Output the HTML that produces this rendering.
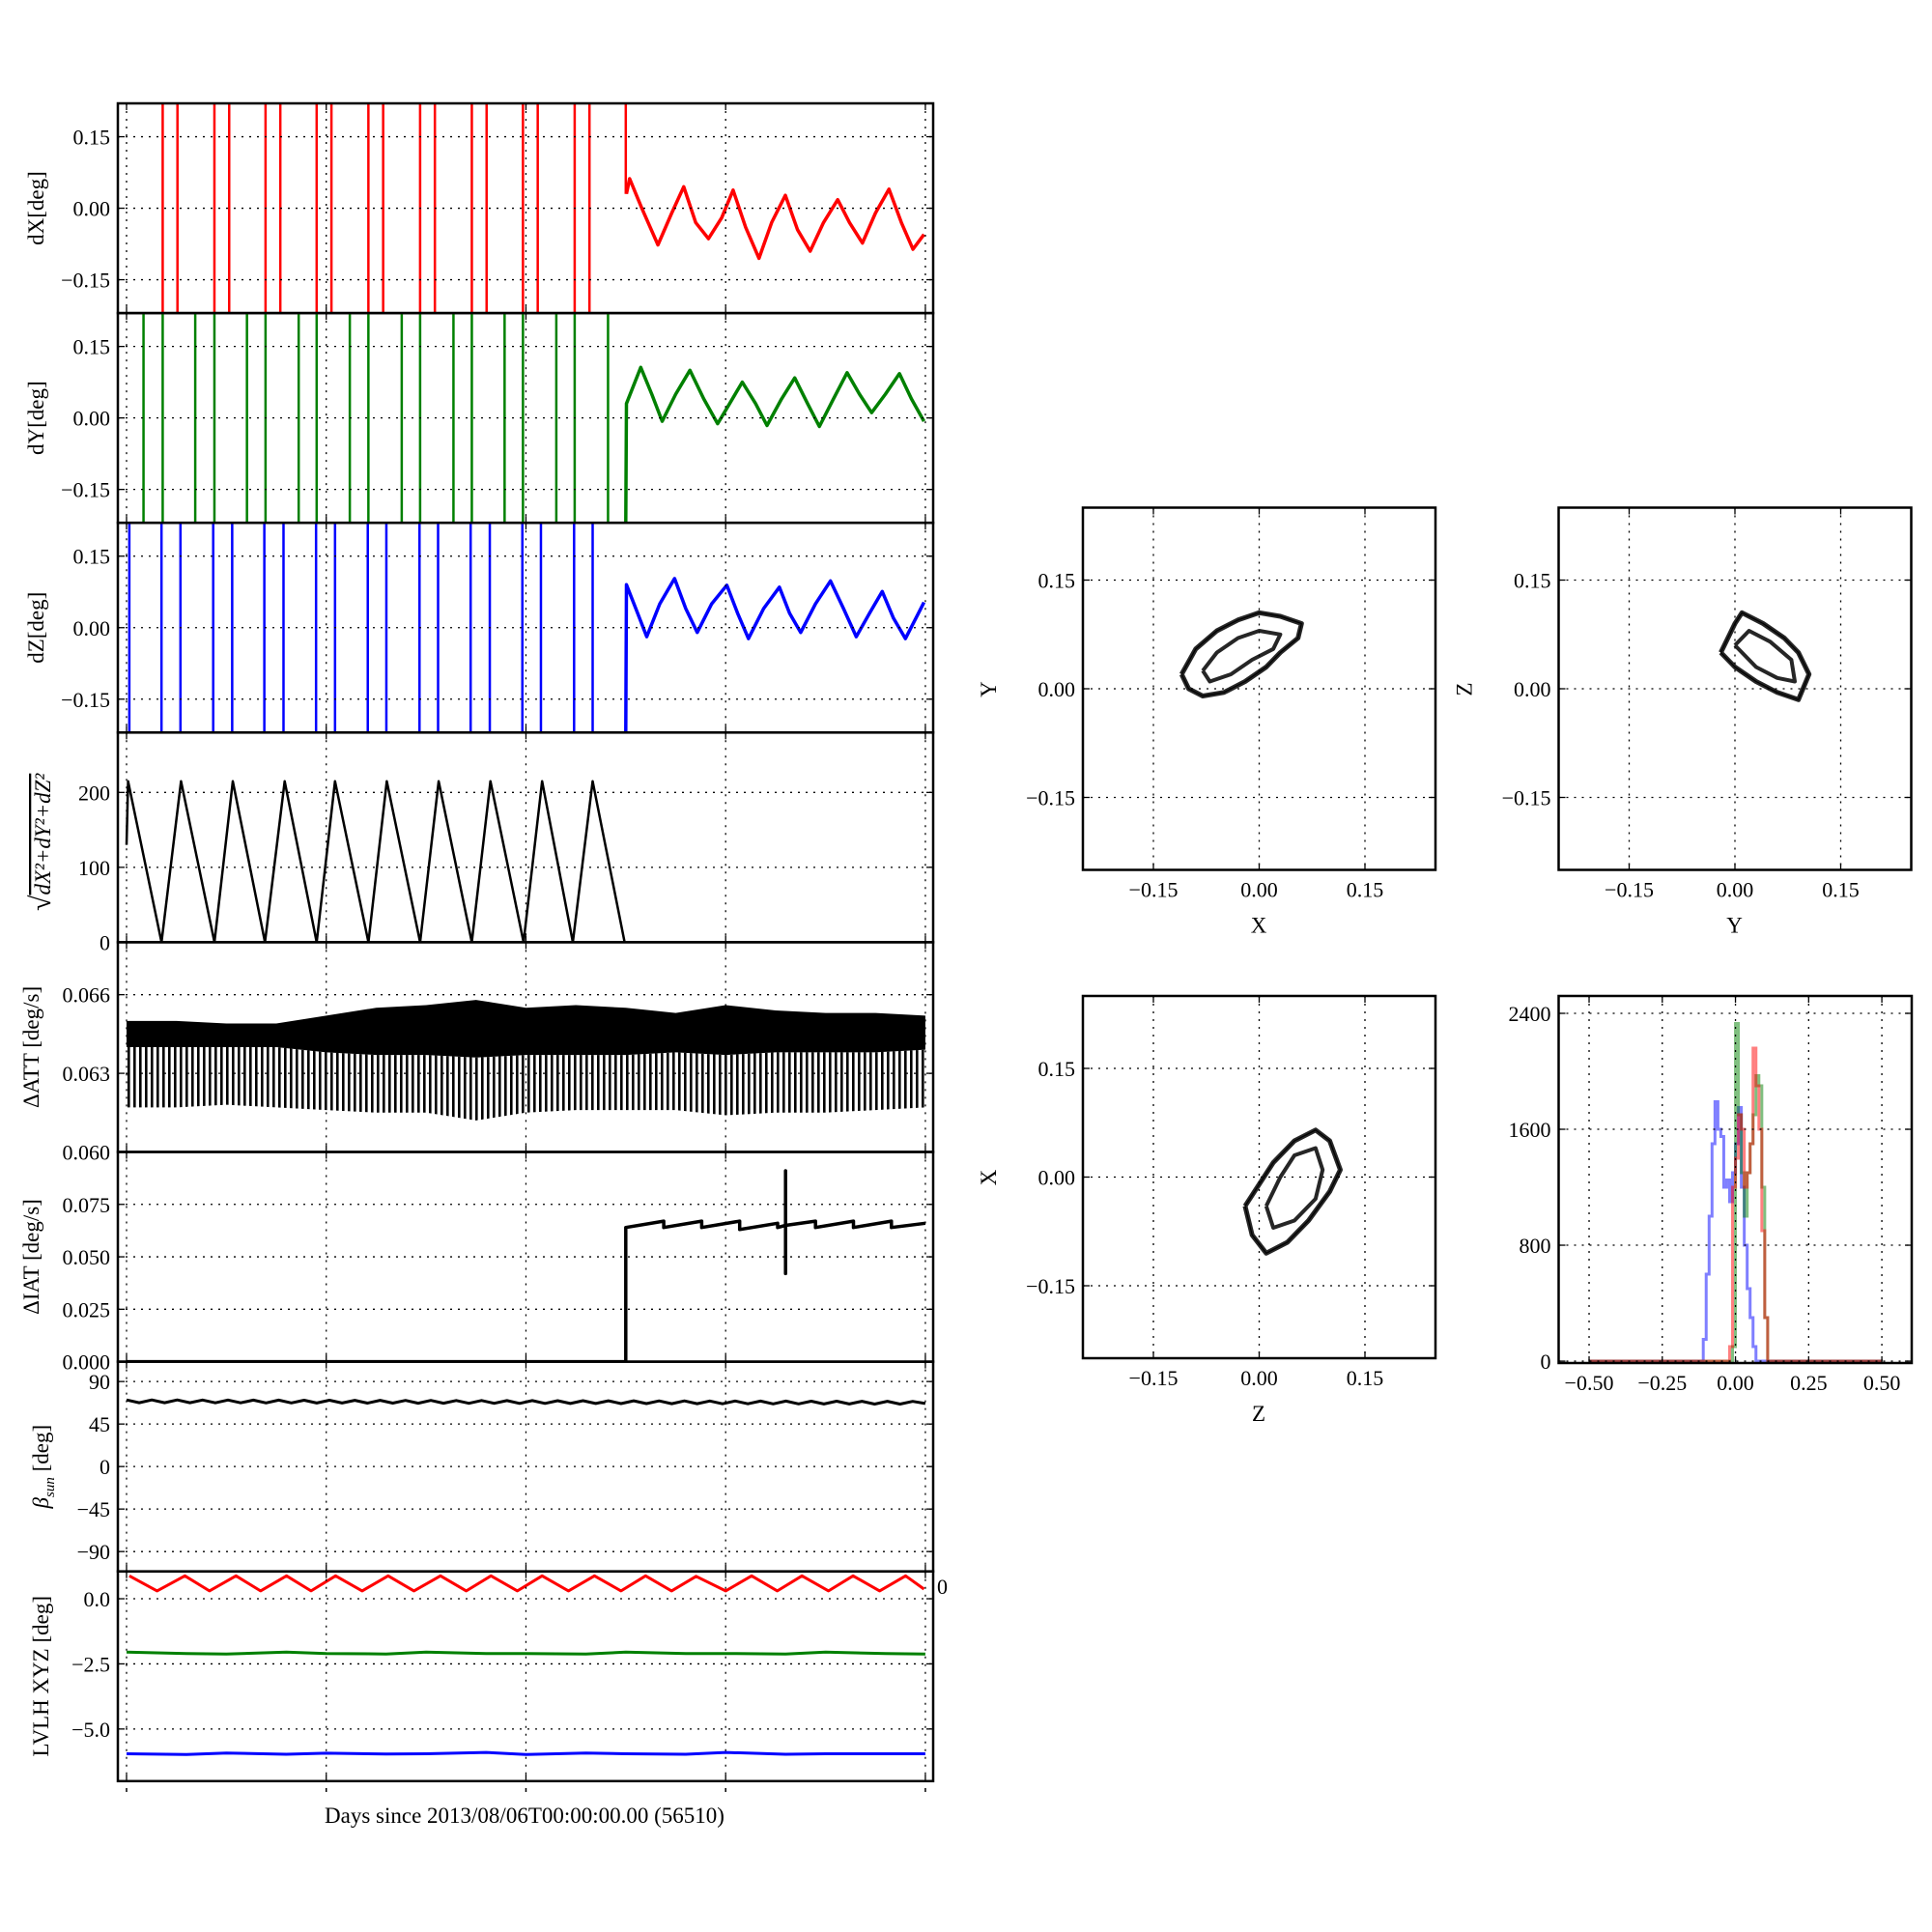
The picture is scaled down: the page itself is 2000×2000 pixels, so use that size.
<!DOCTYPE html>
<html><head><meta charset="utf-8">
<style>
html,body{margin:0;padding:0;background:#fff;}
svg{display:block;font-family:"Liberation Serif",serif;}
</style></head>
<body>
<svg id="fig" width="2000" height="2000" viewBox="0 0 2000 2000" xmlns="http://www.w3.org/2000/svg">
<defs>
<pattern id="stripes" width="6" height="10" patternUnits="userSpaceOnUse"><rect x="0" y="0" width="2.6" height="10" fill="#000"/></pattern>
</defs>
</svg>
<script>
// ---------- data ----------
const dxSpikeDays=[0.181,0.255,0.44,0.514,0.696,0.77,0.952,1.026,1.211,1.285,1.47,1.544,1.729,1.803,1.985,2.059,2.244,2.318];
const dySpikeDays=[0.085,0.181,0.344,0.44,0.603,0.696,0.862,0.952,1.118,1.211,1.378,1.47,1.637,1.729,1.893,1.985,2.152,2.244,2.411];
const dzSpikeDays=[0.014,0.175,0.27,0.434,0.529,0.69,0.786,0.949,1.044,1.208,1.301,1.467,1.56,1.723,1.819,1.982,2.075,2.241,2.334];
const stepDay=2.5;
const dxDays=[2.5,2.503,2.519,2.58,2.661,2.73,2.79,2.85,2.914,2.98,3.037,3.1,3.167,3.23,3.299,3.36,3.423,3.49,3.561,3.62,3.685,3.75,3.818,3.88,3.938,3.993];
const dxVals=[0.22,0.03,0.062,0.0,-0.077,-0.01,0.045,-0.03,-0.064,-0.02,0.038,-0.04,-0.105,-0.03,0.027,-0.045,-0.09,-0.03,0.018,-0.03,-0.073,-0.01,0.04,-0.03,-0.086,-0.055];
const dyDays=[2.5,2.503,2.575,2.63,2.682,2.75,2.821,2.89,2.96,3.02,3.083,3.15,3.207,3.28,3.346,3.41,3.469,3.54,3.608,3.67,3.731,3.8,3.87,3.93,3.993];
const dyVals=[-0.22,0.03,0.106,0.05,-0.007,0.05,0.1,0.04,-0.012,0.03,0.075,0.03,-0.016,0.04,0.084,0.03,-0.018,0.04,0.095,0.05,0.011,0.05,0.093,0.04,-0.007];
const dzDays=[2.5,2.503,2.55,2.605,2.67,2.744,2.8,2.858,2.93,3.006,3.06,3.114,3.19,3.269,3.32,3.376,3.45,3.525,3.59,3.654,3.72,3.784,3.84,3.9,3.993];
const dzVals=[-0.22,0.09,0.04,-0.019,0.05,0.103,0.04,-0.01,0.05,0.089,0.03,-0.023,0.04,0.085,0.03,-0.01,0.05,0.098,0.04,-0.019,0.03,0.076,0.02,-0.023,0.053];
const normDays=[0,0.008,0.175,0.273,0.44,0.532,0.693,0.792,0.952,1.044,1.211,1.303,1.47,1.563,1.729,1.822,1.988,2.081,2.235,2.334,2.494];
const normVals=[130,215,0,215,0,215,0,215,0,215,0,215,0,215,0,215,0,215,0,215,0];
const attDays=[0,0.25,0.5,0.75,1.0,1.25,1.5,1.75,2.0,2.25,2.5,2.75,3.0,3.25,3.5,3.75,4.0];
const attTop=[0.0650,0.0650,0.0649,0.0649,0.0652,0.0655,0.0656,0.0658,0.0655,0.0656,0.0655,0.0653,0.0656,0.0654,0.0653,0.0653,0.0652];
const attCoreLow=[0.0640,0.0640,0.0640,0.0640,0.0638,0.0637,0.0637,0.0636,0.0637,0.0637,0.0637,0.0638,0.0637,0.0638,0.0638,0.0638,0.0639];
const attBottom=[0.0617,0.0617,0.0618,0.0617,0.0616,0.0615,0.0615,0.0612,0.0615,0.0616,0.0616,0.0616,0.0614,0.0615,0.0615,0.0616,0.0617];
const iatDays=[0,2.5,2.5,2.69,2.69,2.88,2.88,3.07,3.07,3.26,3.26,3.3,3.3,3.3,3.3,3.45,3.45,3.64,3.64,3.83,3.83,4.0];
const iatVals=[0,0,0.064,0.067,0.064,0.067,0.064,0.067,0.063,0.066,0.064,0.065,0.091,0.042,0.065,0.067,0.064,0.067,0.064,0.067,0.064,0.066];
const betaVals=[70.5,67.5,70.5,67.5,70.5,67.5,70.4,67.4,70.4,67.4,70.3,67.3,70.3,67.3,70.2,67.2,70.2,67.2,70.1,67.1,70.1,67.1,70.0,67.0,70.0,67.0,69.9,66.9,69.9,66.9,69.8,66.8,69.8,66.8,69.7,66.7,69.7,66.7,69.6,66.6,69.6,66.6,69.5,66.5,69.5,66.5,69.4,66.4,69.4,66.4,69.3,66.3,69.3,66.3,69.2,66.2,69.2,66.2,69.1,66.1,69.1,66.1,69.0,66.7];
const redDays=[0.014,0.153,0.292,0.415,0.548,0.671,0.801,0.924,1.047,1.18,1.31,1.439,1.572,1.701,1.825,1.957,2.081,2.213,2.343,2.476,2.599,2.729,2.852,3.0,3.13,3.259,3.382,3.515,3.638,3.771,3.901,3.993];
const redVals=[0.88,0.3,0.88,0.3,0.88,0.3,0.88,0.3,0.88,0.3,0.88,0.3,0.88,0.3,0.88,0.3,0.88,0.3,0.88,0.3,0.88,0.3,0.86,0.3,0.88,0.3,0.88,0.3,0.88,0.3,0.88,0.37];
const greenDays=[0,0.3,0.5,0.8,1.0,1.3,1.5,1.8,2.0,2.3,2.5,2.8,3.0,3.3,3.5,3.8,4.0];
const greenVals=[-2.05,-2.1,-2.12,-2.05,-2.1,-2.12,-2.05,-2.1,-2.1,-2.12,-2.05,-2.1,-2.1,-2.12,-2.05,-2.1,-2.12];
const blueDays=[0,0.3,0.5,0.8,1.0,1.3,1.5,1.8,2.0,2.3,2.5,2.8,3.0,3.3,3.5,3.8,4.0];
const blueVals=[-5.95,-5.98,-5.92,-5.97,-5.93,-5.96,-5.95,-5.9,-5.98,-5.92,-5.95,-5.97,-5.9,-5.97,-5.95,-5.95,-5.95];
// scatter rings
const xyOuterX=[-0.11,-0.09,-0.06,-0.03,0.0,0.03,0.06,0.055,0.03,0.01,-0.02,-0.05,-0.08,-0.1,-0.11];
const xyOuterY=[0.02,0.055,0.08,0.095,0.105,0.1,0.09,0.07,0.05,0.03,0.01,-0.005,-0.01,0.0,0.02];
const xyInnerX=[-0.08,-0.06,-0.03,0.0,0.03,0.02,-0.01,-0.04,-0.07,-0.08];
const xyInnerY=[0.025,0.05,0.07,0.08,0.075,0.055,0.04,0.02,0.01,0.025];
const yzOuterX=[-0.02,0.0,0.01,0.04,0.07,0.09,0.105,0.09,0.06,0.03,0.0,-0.02];
const yzOuterY=[0.05,0.09,0.105,0.09,0.07,0.05,0.02,-0.015,-0.005,0.01,0.03,0.05];
const yzInnerX=[0.0,0.02,0.05,0.08,0.085,0.06,0.03,0.0];
const yzInnerY=[0.06,0.08,0.065,0.04,0.01,0.015,0.03,0.06];
const zxOuterX=[-0.02,-0.01,0.01,0.04,0.07,0.1,0.115,0.1,0.08,0.05,0.02,0.0,-0.02];
const zxOuterY=[-0.04,-0.08,-0.105,-0.09,-0.06,-0.02,0.01,0.05,0.065,0.05,0.02,-0.01,-0.04];
const zxInnerX=[0.01,0.02,0.05,0.08,0.09,0.08,0.05,0.03,0.01];
const zxInnerY=[-0.04,-0.07,-0.06,-0.03,0.01,0.04,0.03,0.0,-0.04];
// histogram (bin left edges, width 0.01)
const histBins=[-0.13,-0.12,-0.11,-0.10,-0.09,-0.08,-0.07,-0.06,-0.05,-0.04,-0.03,-0.02,-0.01,0.0,0.01,0.02,0.03,0.04,0.05,0.06,0.07,0.08,0.09,0.10,0.11,0.12];
const histBlue=[0,0,150,600,1000,1500,1790,1600,1550,1200,1250,1100,1300,1500,1750,1200,800,500,300,100,0,0,0,0,0,0];
const histGreen=[0,0,0,0,0,0,0,0,0,0,0,0,100,2330,1700,1300,1000,1300,1500,1700,1970,1900,1200,300,0,0];
const histRed=[0,0,0,0,0,0,0,0,0,0,0,100,1200,1400,1700,1600,1200,1300,1500,2160,1900,1600,900,300,0,0];
const dayTicks=[0,1,2,3,4];

// ---------- helpers ----------
const NS='http://www.w3.org/2000/svg';
const svg=document.getElementById('fig');
function mk(tag,attrs,parent){const e=document.createElementNS(NS,tag);for(const k in attrs)e.setAttribute(k,attrs[k]);(parent||svg).appendChild(e);return e;}
let clipN=0;
function axes(x0,y0,w,h,xlim,ylim){
  const a={x0,y0,w,h,x1:x0+w,y1:y0+h,
    sx:v=>x0+(v-xlim[0])/(xlim[1]-xlim[0])*w,
    sy:v=>y0+h-(v-ylim[0])/(ylim[1]-ylim[0])*h};
  const id='c'+(clipN++);
  const cp=mk('clipPath',{id});mk('rect',{x:x0,y:y0,width:w,height:h},cp);
  a.g=mk('g',{'clip-path':'url(#'+id+')'});
  return a;
}
function grid(a,xt,yt){
  xt.forEach(t=>{const x=a.sx(t);
    const l=mk('line',{x1:x,y1:a.y0,x2:x,y2:a.y1,stroke:'#000','stroke-width':1.3,'stroke-dasharray':'2,6'});
    
    
    mk('line',{x1:x,y1:a.y1,x2:x,y2:a.y1-7,stroke:'#000','stroke-width':1.3});
    mk('line',{x1:x,y1:a.y0,x2:x,y2:a.y0+7,stroke:'#000','stroke-width':1.3});});
  yt.forEach(t=>{const y=a.sy(t);
    const l=mk('line',{x1:a.x0,y1:y,x2:a.x1,y2:y,stroke:'#000','stroke-width':1.3,'stroke-dasharray':'2,6'});
    
    
    mk('line',{x1:a.x0,y1:y,x2:a.x0+7,y2:y,stroke:'#000','stroke-width':1.3});
    mk('line',{x1:a.x1,y1:y,x2:a.x1-7,y2:y,stroke:'#000','stroke-width':1.3});});
}
function frame(a){const r=mk('rect',{x:a.x0,y:a.y0,width:a.w,height:a.h,fill:'none',stroke:'#000','stroke-width':2.5});
  
  }
function ylabels(a,yt,labels){yt.forEach((t,i)=>{const tx=mk('text',{x:a.x0-8,y:a.sy(t)+8,'font-size':22,'text-anchor':'end'});tx.textContent=labels[i];
  
  });}
function xlabels(a,xt,labels){xt.forEach((t,i)=>{const tx=mk('text',{x:a.sx(t),y:a.y1+28,'font-size':22,'text-anchor':'middle'});tx.textContent=labels[i];
  
  });}
function vlabel(x,y,txt,name){const t=mk('text',{x,y,'font-size':23,'text-anchor':'middle',transform:`rotate(-90 ${x} ${y})`});t.innerHTML=txt;
  
  return t;}
function poly(a,xs,ys,color,w,name,op){const pts=xs.map((x,i)=>a.sx(x).toFixed(1)+','+a.sy(ys[i]).toFixed(1)).join(' ');
  const p=mk('polyline',{points:pts,fill:'none',stroke:color,'stroke-width':w,'stroke-linejoin':'round','stroke-opacity':op||1},a.g);
  
  return p;}
function spikes(a,days,color,ylim,name){days.forEach(d=>{const x=a.sx(d);
  const l=mk('line',{x1:x,y1:a.sy(ylim[0]),x2:x,y2:a.sy(ylim[1]),stroke:color,'stroke-width':2.5},a.g);
  
  });}

// ---------- left column ----------
const LX0=122,LX1=966,LXLIM=[-0.0435,4.039],PT=107,PH=217.1;
function lpanel(i,ylim){return axes(LX0,PT+i*PH,LX1-LX0,PH,LXLIM,ylim);}
const ang=[-0.22,0.22],angT=[-0.15,0,0.15],angL=['\u22120.15','0.00','0.15'];
let a=lpanel(0,ang);grid(a,dayTicks,angT);spikes(a,dxSpikeDays,'#f00',ang,'dx-spike');
poly(a,[stepDay,stepDay],[0.22,0.03],'#f00',2.5,'dx-step');poly(a,dxDays.slice(1),dxVals.slice(1),'#f00',3.5,'dx-line');
frame(a);ylabels(a,angT,angL);vlabel(45,a.y0+PH/2,'dX[deg]','dx-axis-title');
a=lpanel(1,ang);grid(a,dayTicks,angT);spikes(a,dySpikeDays,'#008000',ang,'dy-spike');
poly(a,dyDays,dyVals,'#008000',3.5,'dy-line');frame(a);ylabels(a,angT,angL);vlabel(45,a.y0+PH/2,'dY[deg]','dy-axis-title');
a=lpanel(2,ang);grid(a,dayTicks,angT);spikes(a,dzSpikeDays,'#00f',ang,'dz-spike');
poly(a,dzDays,dzVals,'#00f',3.5,'dz-line');frame(a);ylabels(a,angT,angL);vlabel(45,a.y0+PH/2,'dZ[deg]','dz-axis-title');
a=lpanel(3,[0,280]);grid(a,dayTicks,[0,100,200]);poly(a,normDays,normVals,'#000',2.5,'norm-line');
frame(a);ylabels(a,[0,100,200],['0','100','200']);
vlabel(52,a.y0+PH/2+5,'<tspan font-size="30">\u221A</tspan><tspan text-decoration="overline" font-style="italic">dX\u00B2+dY\u00B2+dZ\u00B2</tspan>','norm-axis-title');
a=lpanel(4,[0.060,0.068]);grid(a,dayTicks,[0.060,0.063,0.066]);
{const up=attDays.map((d,i)=>a.sx(d)+','+a.sy(attTop[i])),lo=attDays.map((d,i)=>a.sx(d)+','+a.sy(attCoreLow[i])).reverse();
 const core=mk('polygon',{points:up.concat(lo).join(' '),fill:'#000'},a.g);
 
 
 const lo2=attDays.map((d,i)=>a.sx(d)+','+a.sy(attCoreLow[i])),bt=attDays.map((d,i)=>a.sx(d)+','+a.sy(attBottom[i])).reverse();
 const st=mk('polygon',{points:lo2.concat(bt).join(' '),fill:'url(#stripes)'},a.g);
 
 }
frame(a);ylabels(a,[0.060,0.063,0.066],['0.060','0.063','0.066']);vlabel(40,a.y0+PH/2,'\u0394ATT [deg/s]','att-axis-title');
a=lpanel(5,[0,0.1]);grid(a,dayTicks,[0,0.025,0.05,0.075]);poly(a,iatDays,iatVals,'#000',3.5,'iat-line');
frame(a);ylabels(a,[0,0.025,0.05,0.075],['0.000','0.025','0.050','0.075']);vlabel(40,a.y0+PH/2,'\u0394IAT [deg/s]','iat-axis-title');
a=lpanel(6,[-111,111]);grid(a,dayTicks,[-90,-45,0,45,90]);
{const bd=betaVals.map((v,i)=>i*(4/(betaVals.length-1)));poly(a,bd,betaVals,'#000',3,'beta-line');}
frame(a);ylabels(a,[-90,-45,0,45,90],['\u221290','\u221245','0','45','90']);
vlabel(50,a.y0+PH/2,'<tspan font-style="italic">\u03B2</tspan><tspan font-style="italic" font-size="15" dy="6">sun</tspan><tspan dy="-6"> [deg]</tspan>','beta-axis-title');
a=lpanel(7,[-7,1.05]);grid(a,dayTicks,[-5,-2.5,0]);
poly(a,redDays,redVals,'#f00',3,'lvlh-x-line');poly(a,greenDays,greenVals,'#008000',3,'lvlh-y-line');poly(a,blueDays,blueVals,'#00f',3,'lvlh-z-line');
frame(a);ylabels(a,[-5,-2.5,0],['\u22125.0','\u22122.5','0.0']);
{const z=mk('text',{x:970,y:1650,'font-size':22});z.textContent='0';
 
 }
vlabel(50,a.y0+PH/2,'LVLH XYZ [deg]','lvlh-axis-title');
dayTicks.forEach(t=>{const x=a.sx(t);mk('line',{x1:x,y1:1851,x2:x,y2:1855,stroke:'#000','stroke-width':1.5});});
{const t=mk('text',{x:543,y:1887,'font-size':23,'text-anchor':'middle'});t.textContent='Days since 2013/08/06T00:00:00.00 (56510)';
 
 }

// ---------- scatter panels ----------
const sT=[-0.15,0,0.15],sL=['\u22120.15','0.00','0.15'];
function scatter(x0,y0,ox,oy,ix,iy,xl,yl,nm){
  const s=axes(x0,y0,365,375,[-0.25,0.25],[-0.25,0.25]);grid(s,sT,sT);
  poly(s,ox,oy,'#000',5,nm+'-outer',0.85);poly(s,ix,iy,'#000',4,nm+'-inner',0.85);
  poly(s,ox,oy,'#000',1.2,nm+'-outer-trace');
  frame(s);ylabels(s,sT,sL);xlabels(s,sT,sL);
  const t=mk('text',{x:x0+182,y:y0+375+65,'font-size':23,'text-anchor':'middle'});t.textContent=xl;
  
  
  vlabel(x0-90,y0+188,yl,'scatter-y-title');
}
scatter(1121,525.5,xyOuterX,xyOuterY,xyInnerX,xyInnerY,'X','Y','xy-scatter');
scatter(1613.5,525.5,yzOuterX,yzOuterY,yzInnerX,yzInnerY,'Y','Z','yz-scatter');
scatter(1121,1031,zxOuterX,zxOuterY,zxInnerX,zxInnerY,'Z','X','zx-scatter');

// ---------- histogram ----------
{const h=axes(1613.5,1031,365.5,380,[-0.604,0.602],[-13,2520]);
 const hxT=[-0.5,-0.25,0,0.25,0.5],hyT=[0,800,1600,2400];grid(h,hxT,hyT);
 function step(vals,color,nm){let pts=[h.sx(-0.5)+','+h.sy(0)];
   histBins.forEach((b,i)=>{pts.push(h.sx(b)+','+h.sy(vals[i]));pts.push(h.sx(b+0.01)+','+h.sy(vals[i]));});
   pts.push(h.sx(0.5)+','+h.sy(0));
   const p=mk('polyline',{points:pts.join(' '),fill:'none',stroke:color,'stroke-width':3,'stroke-opacity':0.5},h.g);
   
   }
 step(histBlue,'#00f','hist-dz');step(histGreen,'#008000','hist-dy');step(histRed,'#f00','hist-dx');
 frame(h);ylabels(h,hyT,['0','800','1600','2400']);xlabels(h,hxT,['\u22120.50','\u22120.25','0.00','0.25','0.50']);}
</script>
</body></html>
